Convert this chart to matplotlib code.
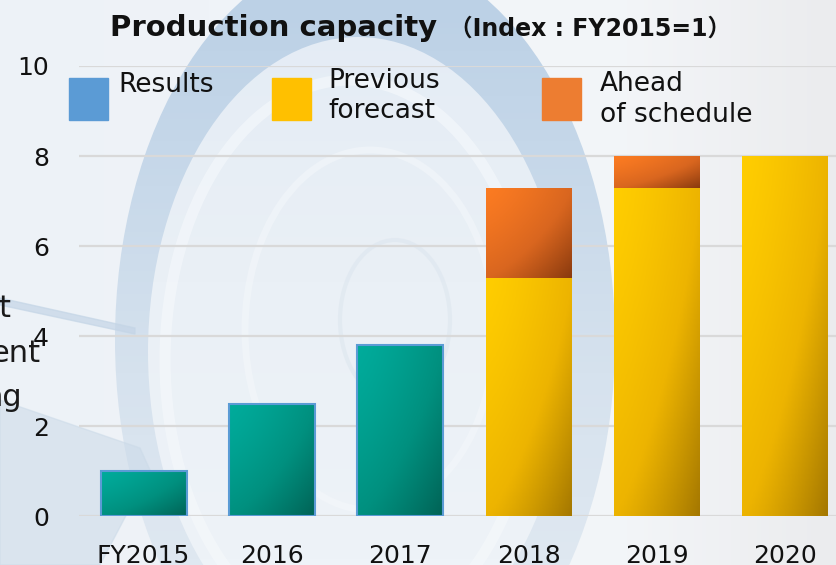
import numpy as np
import matplotlib.pyplot as plt
from matplotlib.patches import Rectangle, Ellipse, Polygon
from matplotlib.colors import LinearSegmentedColormap

# data
years = ["FY2015", "2016", "2017", "2018", "2019", "2020"]
results = [1.0, 2.5, 3.8, 0, 0, 0]
prev_forecast = [0, 0, 0, 5.3, 7.3, 8.0]
ahead = [0, 0, 0, 2.0, 0.7, 0]
yticks = [0, 2, 4, 6, 8, 10]

W, H = 836, 565
fig = plt.figure(figsize=(W / 100, H / 100), dpi=100)

# background picture (rough wheel shape)
bg = fig.add_axes([0, 0, 1, 1], zorder=0)
bg.set_xlim(0, W)
bg.set_ylim(H, 0)
bg.axis("off")
base = np.linspace(0, 1, 200)[None, :] * np.ones((50, 1))
bg_cmap = LinearSegmentedColormap.from_list(
    "bg", ["#edf2f7", "#eff3f8", "#f2f5f9", "#f3f5f8", "#ebecee"])
bg.imshow(base, cmap=bg_cmap, extent=(0, W, H, 0), aspect="auto", zorder=0)

# ring: vertical gradient clipped to the outer ellipse
outer = Ellipse((365, 340), 500, 780, fc="none", ec="none", zorder=1)
bg.add_patch(outer)
vert = np.linspace(0, 1, 100)[:, None] * np.ones((1, 10))
ring_cmap = LinearSegmentedColormap.from_list("ring", ["#bcd1e6", "#c8d9ea", "#d6e2ee", "#dfe8f1"])
rim = bg.imshow(vert, cmap=ring_cmap, extent=(0, W, H, 0), aspect="auto", zorder=1)
rim.set_clip_path(outer)
inner = Ellipse((358, 352), 420, 630, fc="none", ec="none", zorder=2)
bg.add_patch(inner)
in_cmap = LinearSegmentedColormap.from_list("inner", ["#e4ecf5", "#eaf0f6", "#eef3f8"])
inn = bg.imshow(vert, cmap=in_cmap, extent=(0, W, H, 0), aspect="auto", zorder=2)
inn.set_clip_path(inner)
bg.add_patch(Ellipse((350, 360), 370, 560, fill=False, ec="#f6f9fc", lw=8, alpha=0.6, zorder=3))
bg.add_patch(Ellipse((370, 330), 250, 360, fill=False, ec="#f5f8fb", lw=5, alpha=0.5, zorder=3))
bg.add_patch(Ellipse((395, 320), 110, 160, fill=False, ec="#dde6ef", lw=3, alpha=0.6, zorder=3))
bg.add_patch(Polygon([(0, 400), (140, 448), (150, 470), (100, 565), (0, 565)],
                     closed=True, color="#cbdae8", alpha=0.55, zorder=2))
bg.add_patch(Polygon([(0, 298), (0, 305), (135, 334), (135, 328)],
                     closed=True, color="#c4d5e6", alpha=0.7, zorder=2))

# fragments of neighbouring text, cut at left edge
for txt, xr, yb in [("t", 10, 317), ("ent", 40, 362), ("ng", 22, 406)]:
    fig.text(xr / W, 1 - yb / H, txt, ha="right", va="baseline", fontsize=22, color="#1a1a1a")

ax = fig.add_axes([79.4 / W, 48.7 / H, 770 / W, 450.3 / H], zorder=2)
ax.patch.set_alpha(0)
x = np.arange(len(years))
bw = 0.67

teal = LinearSegmentedColormap.from_list("teal", ["#00ab9b", "#00907f", "#006356"])
gold = LinearSegmentedColormap.from_list("gold", ["#ffcd00", "#edb400", "#a57800"])
orng = LinearSegmentedColormap.from_list("orng", ["#fb7b22", "#d9661f", "#8a3a0e"])

u = np.linspace(0, 1, 60)
grad = (u[None, :] ** 1.3 + u[:, None] ** 1.3) / 2


def grad_bar(xc, y0, h, cmap, ec=None):
    if h <= 0:
        return
    rect = Rectangle((xc - bw / 2, y0), bw, h, fc="none",
                     ec=ec if ec else "none", lw=1.5, zorder=4)
    ax.add_patch(rect)
    im = ax.imshow(grad, cmap=cmap, extent=(xc - bw / 2, xc + bw / 2, y0, y0 + h),
                   origin="upper", aspect="auto", zorder=3)
    im.set_clip_path(rect)


for i in range(len(years)):
    grad_bar(x[i], 0, results[i], teal, ec="#5b9bd5")
    grad_bar(x[i], 0, prev_forecast[i], gold)
    grad_bar(x[i], prev_forecast[i], ahead[i], orng)

ax.set_xlim(-0.5, 5.5)
ax.set_ylim(0, 10)
ax.set_yticks(yticks)
ax.set_xticks(x)
ax.set_xticklabels(years)
ax.yaxis.grid(True, color="#d9d9d9", lw=1.6)
ax.set_axisbelow(True)
for s in ax.spines.values():
    s.set_visible(False)
ax.tick_params(length=0, labelsize=18, colors="#111111")
ax.tick_params(axis="y", pad=22)
ax.tick_params(axis="x", pad=20)

# title
fig.text(110 / W, 1 - 36 / H, "Production capacity", fontsize=21, fontweight="bold",
         va="baseline", ha="left", color="#111111")
fig.text(449 / W, 1 - 36 / H, "（Index : FY2015=1）", fontsize=17, fontweight="bold",
         va="baseline", ha="left", color="#111111",
         family=["DejaVu Sans", "Noto Sans CJK JP"])

# legend
leg = [("#5b9bd5", 69, "Results", 118, 72, 1.2),
       ("#ffc000", 272, "Previous\nforecast", 328, 68, 1.18),
       ("#ed7d31", 542, "Ahead\nof schedule", 600, 71, 1.25)]
for col, sx, label, tx, ty, ls in leg:
    fig.patches.append(Rectangle((sx / W, 1 - 120 / H), 39 / W, 42 / H,
                                 transform=fig.transFigure, color=col, zorder=5))
    fig.text(tx / W, 1 - ty / H, label, fontsize=19, va="top", ha="left",
             color="#111111", linespacing=ls, zorder=5)

fig.savefig("out.png", dpi=100)
